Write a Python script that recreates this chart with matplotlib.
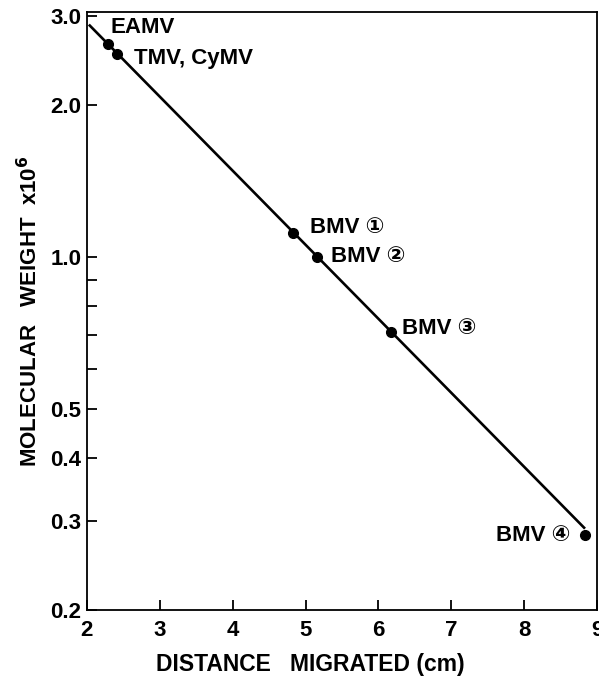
import numpy as np
import matplotlib
matplotlib.use("Agg")
import matplotlib.pyplot as plt
from matplotlib.ticker import FixedLocator, NullFormatter

plt.rcParams['font.family'] = ['Liberation Sans', 'DejaVu Sans']
plt.rcParams['font.weight'] = 'bold'
plt.rcParams['mathtext.default'] = 'bf'

# points
names = ["EAMV", "TMV, CyMV", "BMV \u2460", "BMV \u2461", "BMV \u2462", "BMV \u2463"]
dist = [2.29, 2.42, 4.83, 5.16, 6.17, 8.83]
mw = [2.64, 2.52, 1.115, 1.0, 0.711, 0.281]

# hand-drawn calibration line, end points
line_x = [2.04, 8.82]
line_y = [2.87, 0.291]

y_major = [0.2, 0.3, 0.4, 0.5, 1.0, 2.0, 3.0]
y_labels = ["0.2", "0.3", "0.4", "0.5", "1.0", "2.0", "3.0"]
y_minor = [0.6, 0.7, 0.8, 0.9]
x_ticks = [2, 3, 4, 5, 6, 7, 8, 9]

# label offsets in points (dx, dy) and alignment
offsets = [(2, 12, 'left'), (12, -3, 'left'), (12, 4, 'left'),
           (10, 0, 'left'), (8, 2, 'left'), (-10, 0, 'right')]

fig = plt.figure(figsize=(5.99, 6.77), dpi=100)
ax = fig.add_axes([0.145, 0.099, 0.852, 0.883])

ax.plot(line_x, line_y, '-k', lw=1.9)
ax.plot(dist, mw, 'o', color='k', ms=7, zorder=3)

for n, xx, yy, (dx, dy, ha) in zip(names, dist, mw, offsets):
    ax.annotate(n, (xx, yy), xytext=(dx, dy), textcoords='offset points',
                ha=ha, va='center', fontsize=16, fontweight='bold')

ax.set_yscale('log')
ax.set_xlim(2, 8.97)
ax.set_ylim(0.2, 3.05)
ax.yaxis.set_major_locator(FixedLocator(y_major))
ax.set_yticklabels(y_labels)
ax.yaxis.set_minor_locator(FixedLocator(y_minor))
ax.yaxis.set_minor_formatter(NullFormatter())
ax.set_xticks(x_ticks)

ax.tick_params(direction='in', width=1.3, length=7, labelsize=16, pad=4)
ax.tick_params(which='minor', direction='in', width=1.3, length=7)
ax.tick_params(axis='x', pad=7)
for s in ax.spines.values():
    s.set_linewidth(1.3)

ax.set_xlabel("DISTANCE   MIGRATED (cm)", fontsize=16.5, fontweight='bold')
ax.xaxis.set_label_coords(0.437, -0.072)
ax.set_ylabel(r"MOLECULAR   WEIGHT  x10$^{6}$", fontsize=16, fontweight='bold', labelpad=6)

fig.savefig("out.png", dpi=100)
